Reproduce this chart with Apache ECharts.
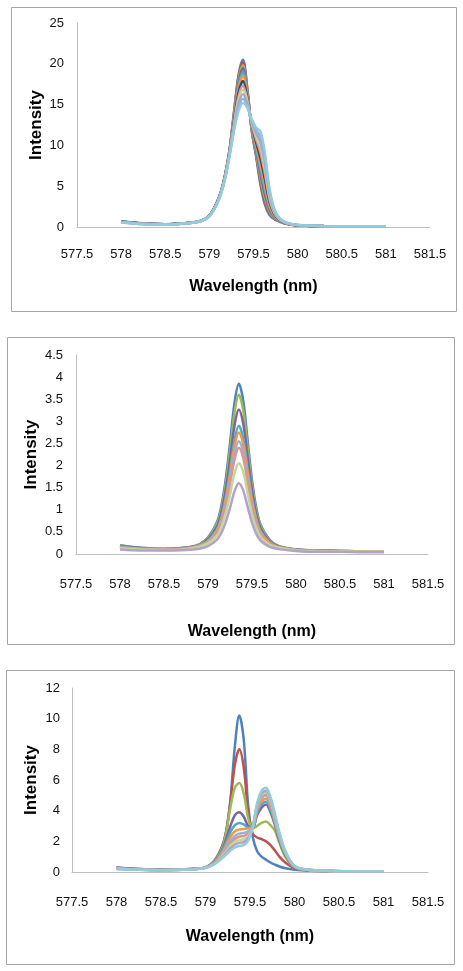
<!DOCTYPE html>
<html><head><meta charset="utf-8">
<script src="https://cdn.jsdelivr.net/npm/echarts/dist/echarts.min.js"></script>
<style>html,body{margin:0;padding:0;background:#fff}#c{width:463px;height:971px}</style>
</head><body><div id="c"></div><script>
// ---------- Panel 1 ----------
const p1_x = [578, 578.25, 578.5, 578.75, 578.9, 579.0, 579.08, 579.13, 579.18, 579.23, 579.28, 579.33, 579.38, 579.43, 579.48, 579.53, 579.58, 579.63, 579.68, 579.73, 579.78, 579.85, 579.95, 580.1, 580.3, 580.6, 581];
const p1_s1 = [0.7, 0.45, 0.35, 0.5, 0.75, 1.4, 2.9, 4.3, 6.5, 9.6, 14.2, 18.6, 20.5, 17.0, 11.8, 8.6, 5.1, 2.7, 1.5, 1.0, 0.72, 0.45, 0.25, 0.15, 0.1, 0.08, 0.07];
const p1_s2 = [0.69, 0.44, 0.35, 0.5, 0.75, 1.39, 2.89, 4.28, 6.47, 9.55, 14.06, 18.34, 20.18, 16.86, 11.88, 8.82, 5.5, 3.08, 1.7, 1.08, 0.75, 0.46, 0.25, 0.15, 0.1, 0.08, 0.07];
const p1_s3 = [0.68, 0.44, 0.34, 0.49, 0.74, 1.39, 2.87, 4.26, 6.44, 9.5, 13.89, 18.03, 19.81, 16.69, 11.98, 9.07, 5.96, 3.52, 1.93, 1.18, 0.8, 0.48, 0.26, 0.15, 0.1, 0.08, 0.07];
const p1_s4 = [0.67, 0.43, 0.34, 0.49, 0.74, 1.38, 2.86, 4.24, 6.4, 9.44, 13.72, 17.72, 19.44, 16.52, 12.08, 9.32, 6.42, 3.96, 2.16, 1.28, 0.84, 0.49, 0.26, 0.16, 0.11, 0.08, 0.07];
const p1_s5 = [0.66, 0.42, 0.34, 0.48, 0.73, 1.37, 2.84, 4.21, 6.36, 9.37, 13.5, 17.32, 18.96, 16.3, 12.21, 9.64, 7.01, 4.53, 2.46, 1.41, 0.89, 0.51, 0.27, 0.16, 0.11, 0.08, 0.07];
const p1_s6 = [0.64, 0.41, 0.33, 0.48, 0.73, 1.36, 2.82, 4.19, 6.31, 9.3, 13.29, 16.93, 18.49, 16.09, 12.33, 9.97, 7.61, 5.09, 2.75, 1.53, 0.94, 0.53, 0.28, 0.16, 0.11, 0.08, 0.07];
const p1_s7 = [0.63, 0.4, 0.33, 0.47, 0.72, 1.35, 2.8, 4.15, 6.26, 9.21, 13.02, 16.44, 17.9, 15.82, 12.49, 10.36, 8.33, 5.79, 3.12, 1.69, 1.0, 0.55, 0.28, 0.16, 0.11, 0.09, 0.07];
const p1_s8 = [0.61, 0.39, 0.32, 0.47, 0.72, 1.34, 2.78, 4.12, 6.2, 9.12, 12.76, 15.96, 17.32, 15.56, 12.64, 10.76, 9.06, 6.48, 3.48, 1.84, 1.07, 0.57, 0.29, 0.17, 0.11, 0.09, 0.08];
const p1_s9 = [0.59, 0.38, 0.31, 0.46, 0.71, 1.33, 2.76, 4.09, 6.15, 9.04, 12.52, 15.52, 16.79, 15.32, 12.78, 11.12, 9.72, 7.11, 3.81, 1.98, 1.13, 0.59, 0.3, 0.17, 0.12, 0.09, 0.08];
const p1_s10 = [0.58, 0.37, 0.31, 0.46, 0.71, 1.32, 2.74, 4.06, 6.1, 8.96, 12.28, 15.08, 16.26, 15.08, 12.92, 11.48, 10.38, 7.74, 4.14, 2.12, 1.18, 0.61, 0.31, 0.17, 0.12, 0.09, 0.08];
const p1_s11 = [0.56, 0.36, 0.3, 0.45, 0.7, 1.31, 2.72, 4.03, 6.05, 8.88, 12.04, 14.64, 15.73, 14.84, 13.06, 11.84, 11.04, 8.37, 4.47, 2.26, 1.24, 0.63, 0.32, 0.18, 0.12, 0.09, 0.08];
const p1_s12 = [0.55, 0.35, 0.3, 0.45, 0.7, 1.3, 2.7, 4.0, 6.0, 8.8, 11.8, 14.2, 15.2, 14.6, 13.2, 12.2, 11.7, 9.0, 4.8, 2.4, 1.3, 0.65, 0.32, 0.18, 0.12, 0.09, 0.08];
const p1_yTicks = [0, 25, 5];

// ---------- Panel 2 ----------
const p2_x = [578, 578.25, 578.5, 578.75, 578.9, 579.0, 579.1, 579.15, 579.2, 579.25, 579.3, 579.35, 579.4, 579.45, 579.5, 579.55, 579.6, 579.7, 579.8, 580, 580.25, 580.5, 580.75, 581];
const p2_a = [0.2, 0.14, 0.12, 0.15, 0.22, 0.37, 0.71, 1.07, 1.67, 2.5, 3.4, 3.85, 3.47, 2.57, 1.67, 1.03, 0.65, 0.32, 0.18, 0.1, 0.08, 0.07, 0.06, 0.06];
const p2_b = [0.19, 0.13, 0.12, 0.14, 0.21, 0.35, 0.67, 1.0, 1.56, 2.34, 3.18, 3.6, 3.25, 2.41, 1.56, 0.97, 0.62, 0.3, 0.18, 0.1, 0.08, 0.07, 0.06, 0.06];
const p2_c = [0.18, 0.13, 0.11, 0.14, 0.2, 0.33, 0.61, 0.92, 1.43, 2.13, 2.89, 3.27, 2.95, 2.19, 1.43, 0.89, 0.57, 0.28, 0.17, 0.1, 0.08, 0.07, 0.06, 0.05];
const p2_d = [0.17, 0.12, 0.11, 0.13, 0.19, 0.3, 0.55, 0.82, 1.27, 1.89, 2.56, 2.9, 2.62, 1.94, 1.27, 0.79, 0.51, 0.26, 0.16, 0.09, 0.07, 0.06, 0.06, 0.05];
const p2_e = [0.16, 0.12, 0.11, 0.13, 0.19, 0.29, 0.53, 0.78, 1.21, 1.79, 2.43, 2.75, 2.48, 1.85, 1.21, 0.76, 0.49, 0.25, 0.16, 0.09, 0.07, 0.06, 0.06, 0.05];
const p2_f = [0.15, 0.11, 0.1, 0.12, 0.18, 0.27, 0.5, 0.73, 1.12, 1.66, 2.25, 2.55, 2.3, 1.71, 1.12, 0.71, 0.46, 0.24, 0.15, 0.09, 0.07, 0.06, 0.05, 0.05];
const p2_g = [0.15, 0.11, 0.1, 0.12, 0.17, 0.26, 0.47, 0.69, 1.06, 1.57, 2.12, 2.4, 2.17, 1.61, 1.06, 0.67, 0.44, 0.23, 0.15, 0.08, 0.07, 0.06, 0.05, 0.05];
const p2_h = [0.13, 0.1, 0.09, 0.11, 0.16, 0.24, 0.41, 0.6, 0.91, 1.34, 1.81, 2.05, 1.85, 1.38, 0.91, 0.58, 0.38, 0.21, 0.14, 0.08, 0.06, 0.06, 0.05, 0.05];
const p2_i = [0.1, 0.08, 0.08, 0.09, 0.12, 0.18, 0.32, 0.47, 0.71, 1.04, 1.41, 1.6, 1.44, 1.07, 0.71, 0.45, 0.3, 0.16, 0.11, 0.07, 0.05, 0.05, 0.04, 0.04];
const p2_yTicks = [0, 4.5, 0.5];

// ---------- Panel 3 ----------
const p3_x = [578, 578.25, 578.5, 578.75, 578.9, 579.0, 579.1, 579.18, 579.23, 579.28, 579.33, 579.38, 579.43, 579.48, 579.53, 579.58, 579.63, 579.68, 579.73, 579.78, 579.83, 579.9, 580.0, 580.15, 580.4, 580.7, 581];
const p3_blue = [0.3, 0.2, 0.15, 0.18, 0.22, 0.3, 0.75, 1.6, 2.6, 4.7, 8.2, 10.2, 8.6, 4.3, 2.3, 1.35, 1.0, 0.8, 0.62, 0.48, 0.36, 0.24, 0.15, 0.09, 0.06, 0.05, 0.05];
const p3_red = [0.28, 0.2, 0.15, 0.18, 0.22, 0.3, 0.7, 1.5, 2.55, 4.6, 7.0, 8.0, 6.8, 3.9, 2.5, 2.25, 2.15, 2.0, 1.75, 1.4, 1.0, 0.6, 0.25, 0.1, 0.06, 0.05, 0.05];
const p3_green = [0.26, 0.18, 0.14, 0.17, 0.21, 0.3, 0.7, 1.45, 2.5, 4.2, 5.5, 5.8, 5.1, 3.5, 2.85, 3.0, 3.2, 3.3, 3.05, 2.7, 1.9, 0.95, 0.3, 0.12, 0.07, 0.05, 0.05];
const p3_purple = [0.25, 0.17, 0.14, 0.16, 0.21, 0.3, 0.65, 1.35, 2.1, 3.0, 3.7, 3.9, 3.6, 3.0, 2.9, 3.7, 4.2, 4.4, 3.9, 3.05, 2.05, 1.07, 0.33, 0.13, 0.07, 0.05, 0.05];
const p3_teal = [0.24, 0.17, 0.13, 0.16, 0.2, 0.3, 0.62, 1.3, 1.9, 2.6, 3.05, 3.2, 3.1, 2.9, 2.9, 3.9, 4.4, 4.6, 4.1, 3.2, 2.15, 1.12, 0.35, 0.14, 0.07, 0.05, 0.05];
const p3_orange = [0.23, 0.16, 0.13, 0.16, 0.2, 0.29, 0.6, 1.2, 1.7, 2.3, 2.65, 2.78, 2.8, 2.85, 2.9, 4.05, 4.6, 4.8, 4.3, 3.3, 2.25, 1.18, 0.36, 0.14, 0.07, 0.05, 0.05];
const p3_ltblue = [0.22, 0.16, 0.13, 0.15, 0.2, 0.29, 0.58, 1.12, 1.55, 2.05, 2.35, 2.5, 2.55, 2.65, 2.95, 4.2, 4.8, 5.0, 4.45, 3.45, 2.35, 1.22, 0.37, 0.14, 0.07, 0.05, 0.05];
const p3_pink = [0.22, 0.15, 0.12, 0.15, 0.2, 0.28, 0.56, 1.05, 1.42, 1.85, 2.15, 2.3, 2.35, 2.5, 2.95, 4.3, 4.9, 5.1, 4.55, 3.55, 2.4, 1.25, 0.38, 0.15, 0.07, 0.05, 0.05];
const p3_ltgreen = [0.21, 0.15, 0.12, 0.15, 0.19, 0.28, 0.54, 0.98, 1.32, 1.7, 1.95, 2.08, 2.15, 2.35, 2.95, 4.35, 5.0, 5.2, 4.65, 3.6, 2.45, 1.28, 0.39, 0.15, 0.07, 0.05, 0.05];
const p3_lavender = [0.2, 0.15, 0.12, 0.14, 0.19, 0.27, 0.52, 0.92, 1.22, 1.55, 1.78, 1.9, 1.95, 2.2, 2.9, 4.4, 5.1, 5.3, 4.75, 3.7, 2.5, 1.3, 0.4, 0.15, 0.07, 0.05, 0.05];
const p3_ltteal = [0.2, 0.14, 0.12, 0.14, 0.19, 0.27, 0.5, 0.86, 1.12, 1.4, 1.6, 1.7, 1.75, 2.05, 2.85, 4.5, 5.3, 5.5, 4.9, 3.8, 2.6, 1.35, 0.4, 0.15, 0.07, 0.05, 0.05];
const p3_yTicks = [0, 12, 2];

const xTicks = [577.5, 581.5, 0.5];
const xName = 'Wavelength (nm)';
const yName = 'Intensity';

const FONT = "'Liberation Sans',Arial,sans-serif";

const panels = [
  { x: p1_x, ys: [p1_s1,p1_s2,p1_s3,p1_s4,p1_s5,p1_s6,p1_s7,p1_s8,p1_s9,p1_s10,p1_s11,p1_s12],
    colors: ['#4F81BD','#C0504D','#9BBB59','#8064A2','#4BACC6','#F79646','#2C4D75','#D99694','#C3D69B','#B3A2C7','#8EB4E3','#93CDDD'],
    yt: p1_yTicks, grid: {left:77, top:23, width:353, height:204}, xm:21, ym:13, xg:52, yg:32 },
  { x: p2_x, ys: [p2_a,p2_b,p2_c,p2_d,p2_e,p2_f,p2_g,p2_h,p2_i],
    colors: ['#4F81BD','#9BBB59','#8064A2','#4BACC6','#F79646','#95B3D7','#D99694','#C3D69B','#B3A2C7'],
    yt: p2_yTicks, grid: {left:76, top:355, width:352, height:199}, xm:24, ym:13, xg:70, yg:36 },
  { x: p3_x, ys: [p3_blue,p3_red,p3_green,p3_purple,p3_teal,p3_orange,p3_ltblue,p3_pink,p3_ltgreen,p3_lavender,p3_ltteal],
    colors: ['#4F81BD','#C0504D','#9BBB59','#8064A2','#4BACC6','#F79646','#95B3D7','#D99694','#C3D69B','#B3A2C7','#93CDDD'],
    yt: p3_yTicks, grid: {left:72, top:688, width:356, height:184}, xm:24, ym:12, xg:57, yg:32 }
];

const grids = [], xAxes = [], yAxes = [], series = [];
panels.forEach((p, gi) => {
  grids.push(p.grid);
  xAxes.push({
    type:'value', gridIndex:gi, min:xTicks[0], max:xTicks[1], interval:xTicks[2],
    axisLine:{show:true, lineStyle:{color:'#bfbfbf', width:1}}, axisTick:{show:false}, splitLine:{show:false},
    axisLabel:{margin:p.xm, color:'#111', fontSize:13, fontFamily:FONT},
    name:xName, nameLocation:'middle', nameGap:p.xg, nameMoveOverlap:false,
    nameTextStyle:{fontWeight:'bold', fontSize:16, color:'#000', fontFamily:FONT}
  });
  yAxes.push({
    type:'value', gridIndex:gi, min:p.yt[0], max:p.yt[1], interval:p.yt[2],
    axisLine:{show:true, lineStyle:{color:'#bfbfbf', width:1}}, axisTick:{show:false}, splitLine:{show:false},
    axisLabel:{margin:p.ym, color:'#111', fontSize:13, fontFamily:FONT},
    name:yName, nameLocation:'middle', nameGap:p.yg, nameMoveOverlap:false,
    nameTextStyle:{fontWeight:'bold', fontSize:17, color:'#000', fontFamily:FONT}
  });
  p.ys.forEach((ys, si) => {
    series.push({
      type:'line', xAxisIndex:gi, yAxisIndex:gi, showSymbol:false, smooth:0.35,
      lineStyle:{width:2.5, color:p.colors[si]}, itemStyle:{color:p.colors[si]},
      data: p.x.map((xv, k) => [xv, ys[k]])
    });
  });
});

const chart = echarts.init(document.getElementById('c'), null, {renderer:'canvas'});
chart.setOption({
  animation:false,
  backgroundColor:'#fff',
  grid:grids, xAxis:xAxes, yAxis:yAxes, series:series,
  graphic:[
    {type:'rect', shape:{x:11.5, y:7.5, width:445, height:304}, style:{fill:'none', stroke:'#a6a6a6', lineWidth:1}, z:-1},
    {type:'rect', shape:{x:7.5, y:337.5, width:447, height:307}, style:{fill:'none', stroke:'#a6a6a6', lineWidth:1}, z:-1},
    {type:'rect', shape:{x:6.5, y:670.5, width:448, height:294}, style:{fill:'none', stroke:'#a6a6a6', lineWidth:1}, z:-1}
  ]
});
</script></body></html>
